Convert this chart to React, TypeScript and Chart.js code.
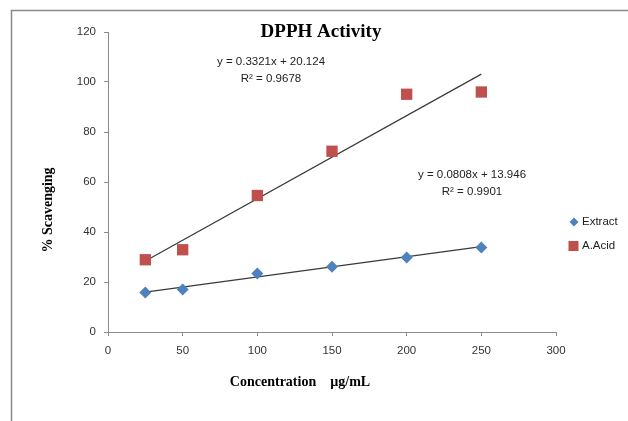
import React, { useEffect, useRef } from "react";
import { Chart, registerables } from "chart.js";

Chart.register(...registerables);

const concentrations = [25, 50, 100, 150, 200, 250];
const extractValues = [15.8, 17.0, 23.4, 26.1, 29.8, 33.8];
const acidValues = [28.9, 32.9, 54.6, 72.3, 95.1, 96.0];
const extractTrend = { slope: 0.0808, intercept: 13.946 };
const acidTrend = { slope: 0.3321, intercept: 20.124 };
const xTicks = [0, 50, 100, 150, 200, 250, 300];
const yTicks = [0, 20, 40, 60, 80, 100, 120];

const chartTitle = "DPPH Activity";
const xTitle = "Concentration    \u00b5g/mL";
const yTitle = "% Scavenging";
const acidEq = ["y = 0.3321x + 20.124", "R\u00b2 = 0.9678"];
const extractEq = ["y = 0.0808x + 13.946", "R\u00b2 = 0.9901"];

const BLUE = "#4F81BD";
const RED = "#C0504D";
const AXIS = "#8c8c8c";
const SANS = "'Liberation Sans', 'DejaVu Sans', sans-serif";
const SERIF = "'Liberation Serif', 'DejaVu Serif', serif";

const trendPoints = (t: { slope: number; intercept: number }) => [
  { x: concentrations[0], y: t.slope * concentrations[0] + t.intercept },
  {
    x: concentrations[concentrations.length - 1],
    y: t.slope * concentrations[concentrations.length - 1] + t.intercept,
  },
];

const decorPlugin = {
  id: "decor",
  beforeDraw(chart: any) {
    const ctx = chart.ctx;
    ctx.save();
    ctx.fillStyle = "#ffffff";
    ctx.fillRect(0, 0, chart.width, chart.height);
    ctx.strokeStyle = "#8a8a8a";
    ctx.lineWidth = 1.5;
    ctx.beginPath();
    ctx.moveTo(11.5, chart.height);
    ctx.lineTo(11.5, 10.5);
    ctx.lineTo(chart.width, 10.5);
    ctx.stroke();
    ctx.restore();
  },
  afterDraw(chart: any) {
    const ctx = chart.ctx;
    ctx.save();
    ctx.fillStyle = "#000";
    ctx.textAlign = "center";
    ctx.textBaseline = "middle";
    ctx.font = `bold 19px ${SERIF}`;
    ctx.fillText(chartTitle, 321, 32);
    ctx.font = `bold 14px ${SERIF}`;
    ctx.fillText(xTitle, 300, 382);
    ctx.save();
    ctx.translate(48, 210);
    ctx.rotate(-Math.PI / 2);
    ctx.fillText(yTitle, 0, 0);
    ctx.restore();
    ctx.font = `11.5px ${SANS}`;
    ctx.fillStyle = "#222";
    ctx.fillText(acidEq[0], 271, 62);
    ctx.fillText(acidEq[1], 271, 79);
    ctx.fillText(extractEq[0], 472, 175);
    ctx.fillText(extractEq[1], 472, 192);
    ctx.textAlign = "left";
    ctx.font = `11.5px ${SANS}`;
    ctx.fillStyle = BLUE;
    ctx.beginPath();
    ctx.moveTo(574, 217.5);
    ctx.lineTo(578.5, 222);
    ctx.lineTo(574, 226.5);
    ctx.lineTo(569.5, 222);
    ctx.closePath();
    ctx.fill();
    ctx.fillStyle = "#222";
    ctx.fillText("Extract", 582, 222);
    ctx.fillStyle = RED;
    ctx.fillRect(568.5, 241, 10, 10);
    ctx.fillStyle = "#222";
    ctx.fillText("A.Acid", 582, 246);
    ctx.restore();
  },
};

export default function App() {
  const ref = useRef<HTMLCanvasElement | null>(null);
  useEffect(() => {
    if (!ref.current) return;
    const chart = new Chart(ref.current, {
      type: "scatter",
      data: {
        datasets: [
          {
            label: "Extract trend",
            data: trendPoints(extractTrend),
            showLine: true,
            borderColor: "#3a3a3a",
            borderWidth: 1.2,
            pointRadius: 0,
            order: 3,
          },
          {
            label: "A.Acid trend",
            data: trendPoints(acidTrend),
            showLine: true,
            borderColor: "#3a3a3a",
            borderWidth: 1.2,
            pointRadius: 0,
            order: 3,
          },
          {
            label: "Extract",
            data: concentrations.map((c, i) => ({ x: c, y: extractValues[i] })),
            pointStyle: "rectRot",
            pointRadius: 6,
            backgroundColor: BLUE,
            borderColor: BLUE,
            borderWidth: 0,
            order: 1,
          },
          {
            label: "A.Acid",
            data: concentrations.map((c, i) => ({ x: c, y: acidValues[i] })),
            pointStyle: "rect",
            pointRadius: 8,
            backgroundColor: RED,
            borderColor: RED,
            borderWidth: 0,
            order: 1,
          },
        ],
      },
      options: {
        animation: false,
        responsive: true,
        maintainAspectRatio: false,
        layout: { padding: { left: 0, top: 32, right: 72, bottom: 0 } },
        plugins: {
          legend: { display: false },
          title: { display: false },
          tooltip: { enabled: false },
        },
        scales: {
          x: {
            type: "linear",
            min: 0,
            max: 300,
            afterBuildTicks: (s: any) => {
              s.ticks = xTicks.map((v) => ({ value: v }));
            },
            afterFit: (s: any) => {
              s.height = 89;
            },
            grid: {
              drawOnChartArea: false,
              drawTicks: true,
              tickLength: 4,
              color: AXIS,
            },
            border: { color: AXIS, width: 1 },
            ticks: {
              color: "#333",
              font: { family: SANS, size: 11.5 },
              padding: 8,
              maxRotation: 0,
            },
          },
          y: {
            type: "linear",
            min: 0,
            max: 120,
            afterBuildTicks: (s: any) => {
              s.ticks = yTicks.map((v) => ({ value: v }));
            },
            afterFit: (s: any) => {
              s.width = 108;
            },
            grid: {
              drawOnChartArea: false,
              drawTicks: true,
              tickLength: 4,
              color: AXIS,
            },
            border: { color: AXIS, width: 1 },
            ticks: {
              color: "#333",
              font: { family: SANS, size: 11.5 },
              padding: 8,
            },
          },
        },
      },
      plugins: [decorPlugin],
    } as any);
    return () => chart.destroy();
  }, []);
  return (
    <div
      style={{
        position: "fixed",
        left: 0,
        top: 0,
        width: 628,
        height: 421,
        background: "#fff",
      }}
    >
      <canvas ref={ref} />
    </div>
  );
}
